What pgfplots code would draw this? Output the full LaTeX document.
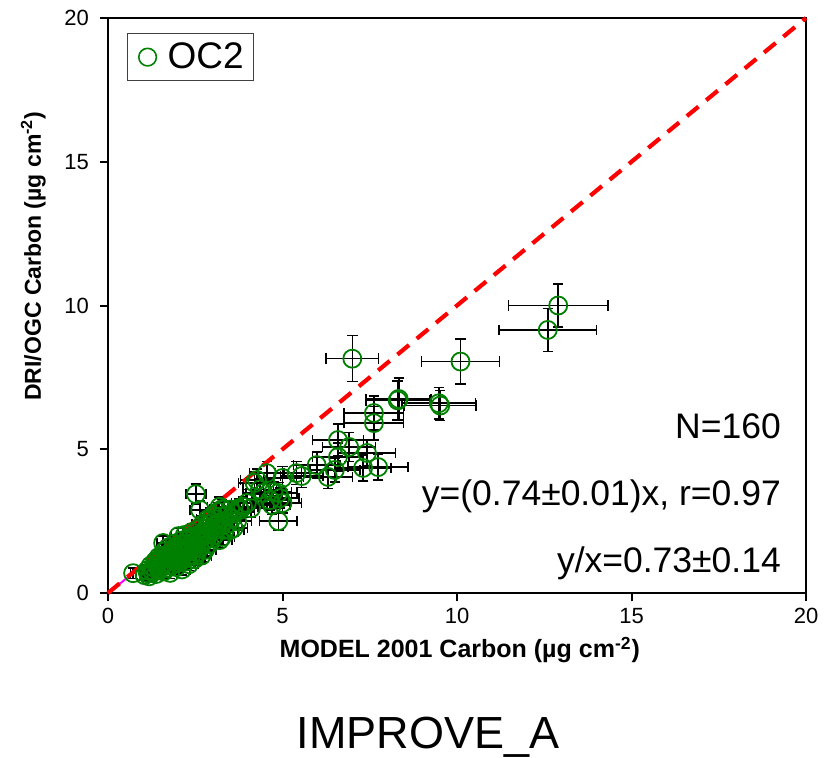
\documentclass[border=0pt]{standalone}
\usepackage{fontspec}
\setmainfont{Liberation Sans}
\usepackage{pgfplots}
\pgfplotsset{compat=1.18}
\usepackage{pgfplotstable}
\definecolor{ocgreen}{HTML}{008000}
\definecolor{fitpink}{HTML}{FF00FF}

% OC2: MODEL 2001 (x) vs DRI/OGC (y), with uncertainties
\pgfplotstableread{
x y ex ey
12.90 10.00 1.43 0.75
12.60 9.15 1.40 0.75
10.10 8.05 1.12 0.78
7.00 8.15 0.75 0.80
8.33 6.75 0.93 0.73
8.30 6.70 0.91 0.68
9.48 6.60 1.05 0.55
9.52 6.52 1.02 0.52
7.62 6.26 0.85 0.60
7.62 5.91 0.85 0.58
6.59 5.32 0.73 0.55
6.91 5.08 0.76 0.50
7.42 4.87 0.82 0.45
6.59 4.73 0.73 0.48
7.74 4.38 0.86 0.45
7.31 4.35 0.80 0.45
5.98 4.45 0.66 0.45
6.50 4.28 0.72 0.42
6.30 4.04 0.70 0.40
5.55 4.07 0.61 0.40
5.40 4.17 0.60 0.40
5.00 4.00 0.55 0.40
4.55 4.17 0.50 0.40
4.27 3.93 0.47 0.39
4.20 3.83 0.46 0.38
2.52 3.44 0.28 0.35
4.45 3.48 0.49 0.36
4.88 3.48 0.54 0.36
4.74 3.51 0.52 0.36
4.64 3.23 0.51 0.34
5.00 3.13 0.55 0.34
4.70 3.06 0.52 0.33
4.93 3.30 0.54 0.35
4.88 2.50 0.54 0.30
3.98 3.13 0.44 0.34
3.87 3.00 0.43 0.33
3.78 2.89 0.42 0.32
3.58 2.78 0.39 0.32
3.60 2.26 0.40 0.29
3.50 2.19 0.39 0.28
3.27 1.95 0.36 0.27
3.20 1.84 0.35 0.26
3.27 2.92 0.36 0.33
3.20 3.00 0.35 0.33
2.92 2.54 0.32 0.30
2.64 2.89 0.29 0.32
4.35 3.60 0.48 0.37
4.10 2.95 0.45 0.33
0.72 0.69 0.08 0.19
1.05 0.62 0.12 0.19
1.12 0.78 0.12 0.20
1.18 0.58 0.13 0.18
1.22 0.95 0.13 0.21
1.28 0.72 0.14 0.19
1.32 0.88 0.15 0.20
1.38 0.66 0.15 0.19
1.42 1.05 0.16 0.21
1.46 0.82 0.16 0.20
1.50 1.15 0.17 0.22
1.52 0.92 0.17 0.21
1.55 1.30 0.17 0.23
1.58 1.74 0.17 0.25
1.60 1.02 0.18 0.21
1.62 1.45 0.18 0.24
1.66 0.86 0.18 0.20
1.70 1.22 0.19 0.22
1.72 1.58 0.19 0.24
1.75 1.08 0.19 0.21
1.78 0.70 0.20 0.19
1.80 1.32 0.20 0.23
1.82 0.96 0.20 0.21
1.85 1.52 0.20 0.24
1.88 1.16 0.21 0.22
1.90 1.72 0.21 0.25
1.93 1.38 0.21 0.23
1.96 0.90 0.22 0.20
2.00 1.26 0.22 0.23
2.00 1.62 0.22 0.25
2.02 1.98 0.22 0.27
2.05 1.46 0.23 0.24
2.08 1.10 0.23 0.22
2.10 1.82 0.23 0.26
2.12 0.82 0.23 0.20
2.15 1.36 0.24 0.23
2.18 1.58 0.24 0.24
2.20 2.02 0.24 0.27
2.22 1.20 0.24 0.22
2.25 1.72 0.25 0.25
2.28 1.42 0.25 0.24
2.30 1.92 0.25 0.27
2.32 1.00 0.26 0.21
2.35 1.64 0.26 0.25
2.38 1.30 0.26 0.23
2.40 2.12 0.26 0.28
2.42 1.84 0.27 0.26
2.45 1.52 0.27 0.24
2.48 1.18 0.27 0.22
2.50 1.98 0.28 0.27
2.52 1.68 0.28 0.25
2.55 1.40 0.28 0.23
2.58 2.22 0.28 0.28
2.60 1.86 0.29 0.26
2.62 1.56 0.29 0.24
2.65 2.06 0.29 0.27
2.68 1.30 0.29 0.23
2.70 2.38 0.30 0.29
2.72 1.76 0.30 0.26
2.75 1.98 0.30 0.27
2.78 1.50 0.31 0.24
2.80 2.24 0.31 0.28
2.82 1.86 0.31 0.26
2.85 2.56 0.31 0.30
2.88 2.04 0.32 0.27
2.90 1.70 0.32 0.25
2.92 2.40 0.32 0.29
2.95 2.18 0.32 0.28
2.98 1.90 0.33 0.26
3.00 2.70 0.33 0.31
3.02 2.32 0.33 0.29
3.05 2.00 0.34 0.27
3.08 2.56 0.34 0.30
3.10 2.20 0.34 0.28
3.15 2.82 0.35 0.32
3.18 2.44 0.35 0.30
3.22 2.66 0.35 0.31
3.25 2.34 0.36 0.29
3.30 2.90 0.36 0.32
3.32 2.50 0.37 0.30
3.35 2.20 0.37 0.28
3.40 2.70 0.37 0.31
3.45 2.42 0.38 0.30
3.50 2.90 0.39 0.32
3.55 2.60 0.39 0.31
3.70 2.50 0.41 0.30
3.75 2.95 0.41 0.33
1.35 1.10 0.15 0.22
1.65 1.20 0.18 0.22
1.90 1.45 0.21 0.24
2.15 1.70 0.24 0.25
2.35 1.90 0.26 0.26
2.60 2.00 0.29 0.27
1.75 1.35 0.19 0.23
2.05 1.60 0.23 0.25
2.45 1.76 0.27 0.26
2.20 1.45 0.24 0.24
1.95 1.15 0.21 0.22
2.30 1.58 0.25 0.24
2.55 1.82 0.28 0.26
2.75 2.10 0.30 0.28
1.45 1.25 0.16 0.23
1.25 0.80 0.14 0.20
1.15 0.68 0.13 0.19
1.85 1.25 0.20 0.23
2.10 1.36 0.23 0.23
1.40 0.95 0.15 0.21
1.70 0.95 0.19 0.21
2.00 1.05 0.22 0.21
2.25 1.10 0.25 0.22
2.50 1.30 0.28 0.23
1.60 0.75 0.18 0.20
}\octwo

\begin{document}
\begin{tikzpicture}
\useasboundingbox (0,0) rectangle (414pt,378.5pt);
\begin{axis}[
  at={(54pt,82pt)}, anchor=south west,
  scale only axis,
  width=349pt, height=287.5pt,
  xmin=0, xmax=20, ymin=0, ymax=20,
  xtick={0,5,10,15,20}, ytick={0,5,10,15,20},
  tick align=outside, tick pos=left,
  major tick length=4pt,
  axis line style={line width=1pt},
  every tick/.style={black, line width=1pt},
  tick label style={font=\fontsize{11}{13}\selectfont},
  yticklabel style={xshift=-2pt},
  /pgf/number format/assume math mode=true,
  xlabel={MODEL 2001 Carbon (µg cm\textsuperscript{-2})},
  ylabel={DRI/OGC Carbon (µg cm\textsuperscript{-2})},
  xlabel style={at={(axis description cs:0.504,-0.113)}, anchor=base, font=\bfseries\fontsize{12.5}{14}\selectfont},
  ylabel style={at={(axis description cs:-0.107,0.586)}, anchor=center, font=\bfseries\fontsize{11.5}{14}\selectfont},
  legend style={at={(0.027,0.974)}, anchor=north west, draw=black!75, line width=0.75pt,
    font=\fontsize{18.5}{21}\selectfont, inner xsep=3pt, inner ysep=2.5pt},
  legend cell align=left,
  legend image code/.code={\draw[ocgreen, line width=0.8pt] (7pt,0) circle (4.4pt);
    \path[draw=none, fill=none] (0,0) -- (15pt,0);},
  clip=false,
]
\addplot[fitpink, line width=1pt, forget plot] coordinates {(0,0) (0.75,0.72)};
\addplot[only marks, color=ocgreen, mark=o, mark size=4.5pt,
  mark options={ocgreen, line width=0.9pt},
  error bars/.cd, x dir=both, x explicit, y dir=both, y explicit,
  error bar style={black, line width=0.8pt},
  error mark options={black, line width=0.8pt, mark size=2.6pt, rotate=90}]
  table[x=x, y=y, x error=ex, y error=ey] {\octwo};
\addlegendentry{OC2}
\addplot[red, line width=2.1pt, dash pattern=on 7.5pt off 5pt, forget plot] coordinates {(0,0) (20,20)};

\node[anchor=base east, font=\fontsize{17.75}{20}\selectfont] at (axis cs:19.48,5.39) {N=160};
\node[anchor=base east, font=\fontsize{17.75}{20}\selectfont] at (axis cs:19.48,3.06) {y=(0.74±0.01)x, r=0.97};
\node[anchor=base east, font=\fontsize{17.75}{20}\selectfont] at (axis cs:19.48,0.70) {y/x=0.73±0.14};
\node[anchor=base, font=\fontsize{22.5}{26}\selectfont] at (axis cs:9.17,-5.4) {IMPROVE\_A};
\end{axis}
\end{tikzpicture}
\end{document}
